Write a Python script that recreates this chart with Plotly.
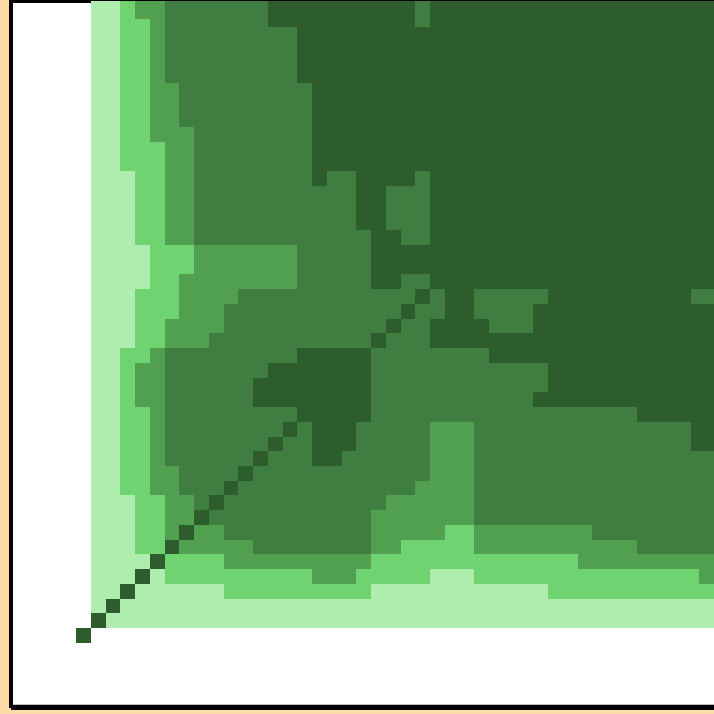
import plotly.graph_objects as go

LEVEL_COLORS = ["#afedaf", "#6ed370", "#50a050", "#3f7d40", "#2d5c2d"]
BACKGROUND = "#ffdbaa"

# Matrix levels, top row first; 0 = empty, spaces only group runs for reading.
ROWS_TOP_DOWN = [
    "0 11 2 33 4444444 5555555555 4 55555555555555555555",
    "0 11 22 3 4444444 5555555555 4 55555555555555555555",
    "0 11 22 3 444444444 55555555555555555555555555555",
    "0 11 22 3 444444444 55555555555555555555555555555",
    "0 11 22 3 444444444 55555555555555555555555555555",
    "0 11 22 3 444444444 55555555555555555555555555555",
    "0 11 22 33 444444444 5555555555555555555555555555",
    "0 11 22 33 444444444 5555555555555555555555555555",
    "0 11 22 33 444444444 5555555555555555555555555555",
    "0 11 22 333 44444444 5555555555555555555555555555",
    "0 11 222 33 44444444 5555555555555555555555555555",
    "0 11 222 33 44444444 5555555555555555555555555555",
    "0 111 22 33 44444444 5 44 5555 4 55555555555555555555",
    "0 111 22 33 44444444444 55 444 55555555555555555555",
    "0 111 22 33 44444444444 55 444 55555555555555555555",
    "0 111 22 33 44444444444 55 444 55555555555555555555",
    "0 111 22 33 444444444444 55 44 55555555555555555555",
    "0 1111 222 3333333 44444 555555555555555555555555",
    "0 1111 222 3333333 44444 555555555555555555555555",
    "0 1111 22 33333333 44444 55 44 55555555555555555555",
    "0 111 222 3333 444444444444 5 4 55 44444 5555555555 44",
    "0 111 222 333 444444444444 5 44 55 4444 5555555555555",
    "0 111 22 3333 44444444444 5 44 5555 444 5555555555555",
    "0 111 22 333 44444444444 5 444 55555555555555555555",
    "0 11 22 3 444444444 55555 44444444 5555555555555555",
    "0 11 2 33 4444444 5555555 444444444444 555555555555",
    "0 11 2 33 444444 55555555 444444444444 555555555555",
    "0 11 2 33 444444 55555555 44444444444 5555555555555",
    "0 11 22 3 444444444 55555 444444444444444444 555555",
    "0 11 22 3 44444444 5 4 555 44444 333 444444444444444 55",
    "0 11 22 3 4444444 5 44 555 44444 333 444444444444444 55",
    "0 11 22 3 444444 5 444 55 444444 333 44444444444444444",
    "0 11 22 33 4444 5 444444444444 333 44444444444444444",
    "0 11 22 33 444 5 444444444444 3333 44444444444444444",
    "0 111 22 33 4 5 44444444444 333333 44444444444444444",
    "0 111 22 33 5 44444444444 3333333 44444444444444444",
    "0 111 22 3 5 33 4444444444 33333 22 33333333 444444444",
    "0 111 22 5 33333 44444444 33 22222 33333333333 444444",
    "0 1111 5 2222 3333333333 22222222222222 3333333333",
    "0 111 5 1 2222 222222 333 22222 111 2222222222222222 3",
    "0 11 5 111111 2222222222 111111111111 222222222222",
    "0 1 5 11111111111111111111111111111111111111111",
    "0 5 111111111111111111111111111111111111111111",
    "5 0000000000000000000000000000000000000000000",
]

# Cell edges along each axis, in cell units.
X_EDGES = list(range(42)) + [41.715, 42.24, 43.3]
Y_EDGES = list(range(42)) + [41.78, 42.28, 43.525]

rows = [r.replace(" ", "") for r in ROWS_TOP_DOWN]
for i, r in enumerate(rows):
    assert len(r) == 44, (i, len(r))
z = [[int(c) if c != "0" else None for c in r] for r in reversed(rows)]

scale = []
for i, c in enumerate(LEVEL_COLORS):
    scale += [[i / 5, c], [(i + 1) / 5, c]]

W, H = 714, 714
L, B = 13, 10


def px(v):
    return (v - L) / (W - L)


def py(v):
    return (H - B - v) / (H - B)


def box(x0, y0, x1, y1, color="#000000"):
    return dict(type="rect", xref="paper", yref="paper", layer="below",
                x0=px(x0), x1=px(x1), y0=py(y0), y1=py(y1),
                fillcolor=color, line_width=0)


fig = go.Figure(go.Heatmap(
    x=X_EDGES, y=Y_EDGES, z=z, zmin=0.5, zmax=5.5,
    colorscale=scale, showscale=False, hoverinfo="skip",
))
fig.update_layout(
    width=W, height=H, margin=dict(l=L, r=0, t=0, b=B, pad=0),
    paper_bgcolor=BACKGROUND, plot_bgcolor="#ffffff",
    shapes=[
        box(9, 0, 13, 708),
        box(11, 705, 714, 710),
        box(13, 704, 714, 705, "#bdbdbd"),
        box(13, 0, 714, 3),
    ],
    xaxis=dict(range=[-4.271, 43.254], visible=False, fixedrange=True),
    yaxis=dict(range=[-4.136, 43.593], visible=False, fixedrange=True),
)
fig.write_html(
    "out.html",
    config={"displayModeBar": False},
    post_script="document.body.style.margin='0';document.body.style.overflow='hidden';"
                "document.documentElement.style.background='" + BACKGROUND + "';",
)
